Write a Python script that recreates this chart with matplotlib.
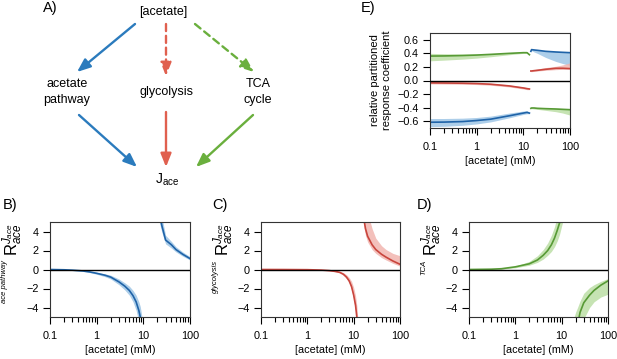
import numpy as np
import matplotlib
matplotlib.use('Agg')
import matplotlib.pyplot as plt
from matplotlib.ticker import LogLocator, FixedLocator, NullFormatter

plt.rcParams['font.family'] = ['Liberation Sans', 'DejaVu Sans']
plt.rcParams['mathtext.fontset'] = 'custom'
plt.rcParams['mathtext.rm'] = 'Liberation Sans'
plt.rcParams['mathtext.it'] = 'Liberation Sans:italic'

# ---------------- data ----------------
# B) acetate pathway
xB1 = [0.1, 0.2, 0.3, 0.5, 0.7, 1, 1.5, 2, 3, 4, 5, 6, 7, 8, 8.6, 9.5]
yB1 = [0, -0.03, -0.07, -0.15, -0.25, -0.4, -0.6, -0.8, -1.3, -1.75, -2.2, -2.75, -3.4, -4.3, -5.0, -7.0]
loB1 = [0, -0.05, -0.1, -0.2, -0.32, -0.5, -0.75, -1.0, -1.6, -2.15, -2.7, -3.4, -4.3, -5.5, -6.5, -9.0]
hiB1 = [0, -0.01, -0.04, -0.1, -0.18, -0.3, -0.45, -0.6, -1.0, -1.4, -1.75, -2.2, -2.7, -3.4, -3.9, -5.2]
xB2 = [20, 22, 25, 30, 40, 50, 70, 100]
yB2 = [7, 6, 4.6, 3.1, 2.6, 2.1, 1.6, 1.15]
loB2 = [5.5, 5, 3.9, 2.7, 2.25, 1.85, 1.4, 1.0]
hiB2 = [9, 7.5, 5.5, 3.6, 2.95, 2.4, 1.85, 1.35]

# C) glycolysis
xC1 = [0.1, 0.3, 1, 2, 3, 4, 5, 6, 7, 8, 9, 10, 11, 11.7, 12.3]
yC1 = [0, -0.005, -0.02, -0.06, -0.12, -0.2, -0.3, -0.5, -0.8, -1.2, -1.8, -2.7, -3.8, -5.0, -7]
loC1 = [0, -0.01, -0.03, -0.07, -0.14, -0.24, -0.36, -0.6, -0.95, -1.4, -2.1, -3.1, -4.4, -5.8, -8]
hiC1 = [0, 0, -0.01, -0.04, -0.08, -0.13, -0.2, -0.33, -0.55, -0.85, -1.25, -1.9, -2.8, -3.8, -5.2]
xC2 = [15, 16, 17, 18, 20, 25, 30, 40, 50, 70, 100]
yC2 = [8, 6.5, 5.0, 4.3, 3.5, 2.6, 2.1, 1.6, 1.3, 0.9, 0.55]
loC2 = [6, 5.2, 4.2, 3.6, 2.9, 2.1, 1.7, 1.25, 1.0, 0.65, 0.35]
hiC2 = [12, 10, 8.5, 7.5, 6, 4.3, 3.3, 2.5, 2.1, 1.7, 1.45]

# D) TCA cycle
xD1 = [0.1, 0.3, 0.5, 1, 2, 3, 4, 5, 6, 7, 8, 9, 10, 11]
yD1 = [0, 0.03, 0.08, 0.28, 0.6, 1.0, 1.5, 2.0, 2.6, 3.3, 4.1, 4.9, 6, 7.5]
loD1 = [0, 0.02, 0.05, 0.18, 0.45, 0.75, 1.1, 1.5, 1.9, 2.4, 3.0, 3.7, 4.6, 5.4]
hiD1 = [0, 0.04, 0.1, 0.35, 0.85, 1.45, 2.1, 2.8, 3.6, 4.5, 5.6, 7, 9, 11]
xD2 = [18, 20, 22, 25, 30, 40, 50, 70, 100]
yD2 = [-10, -7, -5.8, -4.5, -3.5, -2.7, -2.2, -1.65, -1.2]
loD2 = [-14, -10, -9, -7, -5.2, -4.0, -3.4, -2.9, -2.6]
hiD2 = [-5.2, -4.5, -4.0, -3.3, -2.5, -1.9, -1.6, -1.25, -0.95]

# E) relative partitioned response coefficients
xE1 = [0.1, 0.2, 0.5, 1, 2, 5, 10, 12, 13.5]
gE1 = [0.36, 0.362, 0.368, 0.375, 0.385, 0.40, 0.41, 0.41, 0.38]
gE1_lo = [0.29, 0.30, 0.315, 0.33, 0.35, 0.38, 0.40, 0.40, 0.375]
gE1_hi = [0.40, 0.395, 0.39, 0.39, 0.395, 0.41, 0.42, 0.42, 0.39]
rE1 = [-0.035, -0.037, -0.04, -0.045, -0.055, -0.08, -0.11, -0.12, -0.125]
rE1_lo = [-0.05, -0.052, -0.055, -0.06, -0.07, -0.095, -0.125, -0.135, -0.135]
rE1_hi = [-0.02, -0.022, -0.025, -0.03, -0.04, -0.065, -0.095, -0.105, -0.115]
bE1 = [-0.615, -0.613, -0.605, -0.59, -0.57, -0.52, -0.48, -0.47, -0.48]
bE1_lo = [-0.68, -0.675, -0.66, -0.64, -0.61, -0.55, -0.50, -0.49, -0.49]
bE1_hi = [-0.56, -0.56, -0.555, -0.545, -0.525, -0.48, -0.45, -0.445, -0.47]

xE2 = [14.5, 15, 17, 20, 30, 50, 70, 100]
bE2 = [0.43, 0.455, 0.45, 0.445, 0.43, 0.42, 0.415, 0.41]
bE2_lo = [0.43, 0.44, 0.42, 0.40, 0.34, 0.28, 0.25, 0.22]
bE2_hi = [0.44, 0.46, 0.46, 0.45, 0.44, 0.43, 0.425, 0.42]
rE2 = [0.14, 0.14, 0.145, 0.15, 0.165, 0.18, 0.18, 0.175]
rE2_lo = [0.13, 0.13, 0.135, 0.14, 0.15, 0.16, 0.165, 0.165]
rE2_hi = [0.15, 0.15, 0.16, 0.17, 0.19, 0.21, 0.23, 0.26]
gE2 = [-0.41, -0.405, -0.405, -0.41, -0.415, -0.42, -0.425, -0.43]
gE2_lo = [-0.42, -0.415, -0.42, -0.425, -0.44, -0.46, -0.48, -0.51]
gE2_hi = [-0.40, -0.40, -0.40, -0.40, -0.405, -0.41, -0.415, -0.42]

# colours
BLUE, BLUE_F = '#1f63a8', '#9fc6e6'
RED, RED_F = '#c9453d', '#f1b5b0'
GREEN, GREEN_F = '#579a35', '#bcdea6'
ARROW_B, ARROW_R, ARROW_G = '#2b7bbd', '#e0604f', '#6aaf3d'

W, H = 617, 359
fig = plt.figure(figsize=(W / 100, H / 100), dpi=100)


def px_axes(l, t, r, b):
    return fig.add_axes([l / W, 1 - b / H, (r - l) / W, (b - t) / H])


def style_log(ax):
    ax.set_xscale('log')
    ax.set_xlim(0.1, 100)
    ax.xaxis.set_major_locator(FixedLocator([0.1, 1, 10, 100]))
    ax.set_xticklabels(['0.1', '1', '10', '100'])
    ax.xaxis.set_minor_locator(LogLocator(base=10, subs=np.arange(2, 10)))
    ax.xaxis.set_minor_formatter(NullFormatter())
    ax.tick_params(which='major', direction='out', length=5, width=0.8, labelsize=7.8, pad=3)
    ax.tick_params(axis='x', which='major', pad=5)
    ax.tick_params(which='minor', direction='out', length=3.5, width=0.8)
    ax.tick_params(axis='x', which='both', top=False)
    ax.tick_params(axis='y', right=False)
    for s in ax.spines.values():
        s.set_color('#333333')
        s.set_linewidth(0.8)
    ax.axhline(0, color='black', lw=1.0, zorder=3)
    ax.set_xlabel('[acetate] (mM)', fontsize=7.8, labelpad=3)


def branch(ax, x, y, lo, hi, c, cf):
    ax.fill_between(x, lo, hi, color=cf, lw=0, alpha=0.85, zorder=1)
    ax.plot(x, y, color=c, lw=1.2, zorder=2)


# ---------------- A) diagram ----------------
axA = fig.add_axes([0, 0, 1, 1], zorder=-1)
axA.set_xlim(0, W)
axA.set_ylim(H, 0)
axA.axis('off')

tk = dict(fontsize=9, ha='center', va='center')
axA.text(163, 12, '[acetate]', **tk)
axA.text(67, 92, 'acetate\npathway', linespacing=1.5, **tk)
axA.text(166, 92, 'glycolysis', **tk)
axA.text(258, 92, 'TCA\ncycle', linespacing=1.5, **tk)
axA.text(167, 180, r'J$_{\mathrm{ace}}$', fontsize=10, ha='center', va='center')


def arrow(p0, p1, c, ls='-'):
    axA.annotate('', xy=p1, xytext=p0,
                 arrowprops=dict(arrowstyle='-|>,head_length=0.8,head_width=0.32',
                                 color=c, lw=1.7, linestyle=ls,
                                 shrinkA=0, shrinkB=0))


arrow((135, 24), (77, 72), ARROW_B)
arrow((166, 24), (166, 76), ARROW_R, (0, (3, 2)))
arrow((195, 24), (254, 72), ARROW_G, (0, (3, 2)))
arrow((79, 115), (137, 167), ARROW_B)
arrow((166, 112), (166, 167), ARROW_R)
arrow((253, 115), (196, 167), ARROW_G)

# panel letters
for lab, (x, y) in {'A)': (50, 8), 'B)': (10, 205), 'C)': (220, 205),
                    'D)': (425, 205), 'E)': (368, 8)}.items():
    fig.text(x / W, 1 - y / H, lab, fontsize=10.5, ha='center', va='center')

# ---------------- B, C, D ----------------
panels = [
    ((50, 222, 190, 317), [(xB1, yB1, loB1, hiB1), (xB2, yB2, loB2, hiB2)], BLUE, BLUE_F, 'ace pathway', 13, 4.5),
    ((261, 222, 400, 317), [(xC1, yC1, loC1, hiC1), (xC2, yC2, loC2, hiC2)], RED, RED_F, 'glycolysis', 224, 215.5),
    ((469, 222, 608, 317), [(xD1, yD1, loD1, hiD1), (xD2, yD2, loD2, hiD2)], GREEN, GREEN_F, 'TCA', 432, 423.5),
]
for box, branches, c, cf, pre, xr, xp in panels:
    ax = px_axes(*box)
    for x, y, lo, hi in branches:
        branch(ax, x, y, lo, hi, c, cf)
    style_log(ax)
    ax.set_ylim(-5, 5)
    ax.set_yticks([-4, -2, 0, 2, 4])
    ax.set_yticklabels(['\u22124', '\u22122', '0', '2', '4'])
    fig.text(xr / W, 1 - 240 / H, r'R$^{J_{ace}}_{ace}$', rotation=90,
             fontsize=12, ha='center', va='center')
    fig.text(xp / W, 1 - 260 / H, pre, rotation=90, style='italic',
             fontsize=5.5, ha='center', va='top')

# ---------------- E ----------------
axE = px_axes(430, 33, 570, 128)
for x, y, lo, hi, c, cf in [
        (xE1, gE1, gE1_lo, gE1_hi, GREEN, GREEN_F),
        (xE1, rE1, rE1_lo, rE1_hi, RED, RED_F),
        (xE1, bE1, bE1_lo, bE1_hi, BLUE, BLUE_F),
        (xE2, bE2, bE2_lo, bE2_hi, BLUE, BLUE_F),
        (xE2, rE2, rE2_lo, rE2_hi, RED, RED_F),
        (xE2, gE2, gE2_lo, gE2_hi, GREEN, GREEN_F)]:
    branch(axE, x, y, lo, hi, c, cf)
style_log(axE)
axE.set_ylim(-0.7, 0.7)
axE.set_yticks([-0.6, -0.4, -0.2, 0.0, 0.2, 0.4, 0.6])
axE.set_yticklabels(['\u22120.6', '\u22120.4', '\u22120.2', '0.0', '0.2', '0.4', '0.6'])
axE.set_ylabel('relative partitioned\nresponse coefficient', fontsize=8, labelpad=4, linespacing=1.2)

fig.savefig('out.png', dpi=100)
